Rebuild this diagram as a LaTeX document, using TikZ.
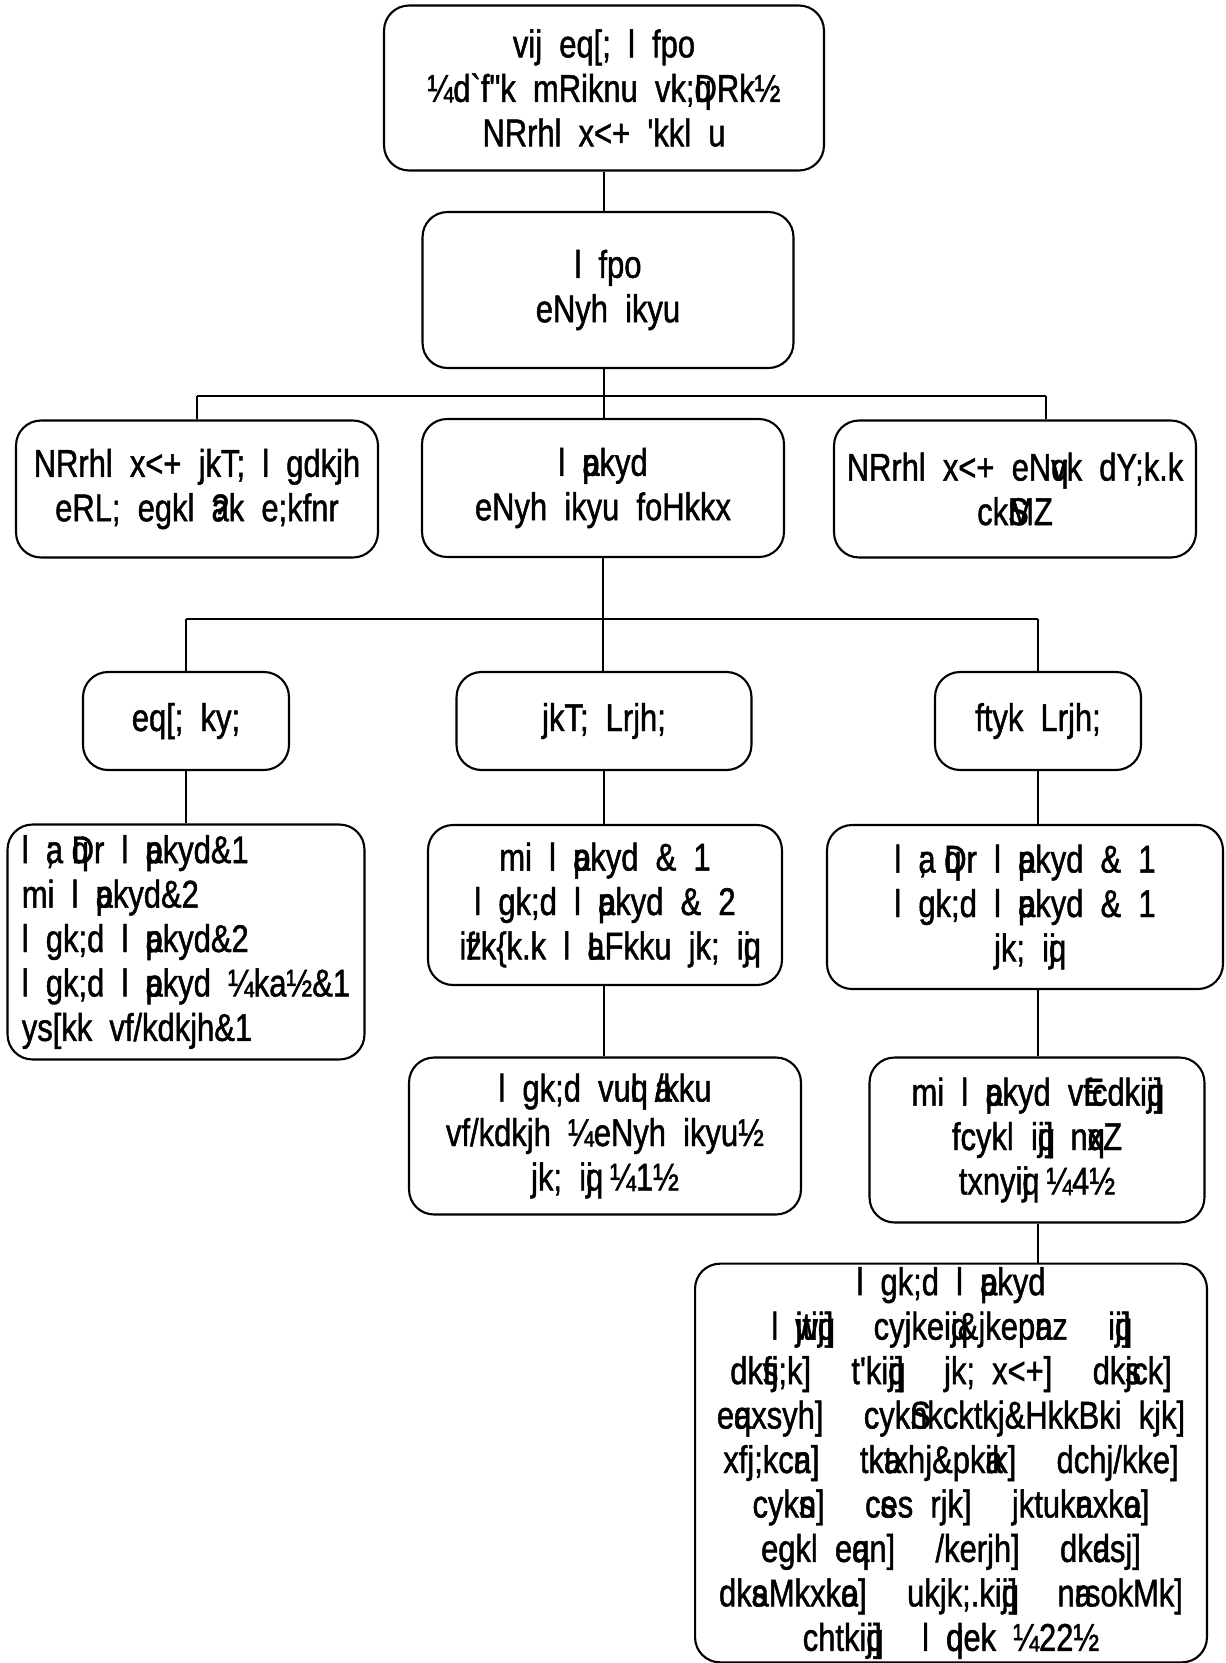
\documentclass[tikz,border=0pt]{standalone}
\usepackage{fontspec}
\newfontfamily\kfont[FakeStretch=0.8,FakeBold=1.2,WordSpace=2,Ligatures=TeXOff]{Liberation Sans}
\usepackage{tikz}
\usetikzlibrary{positioning}
% glyph drawn over the next one
\newcommand\kov[2]{\rlap{#1}#2}
% extra word gap
\newcommand\kg{\hspace{0.6em}}

\begin{document}
\begin{tikzpicture}[
    x=0.02cm, y=-0.02cm,
    box/.style={draw, line width=1.2pt, rounded corners=0.5cm, align=center,
      font=\kfont\fontsize{22}{25.3}\selectfont, inner sep=2pt},
    link/.style={line width=1.2pt}
]
  \useasboundingbox (0,0) rectangle (1226,1663);

  % shirsh star
  \node[box, minimum width=8.8cm, minimum height=3.3cm] (A) at (604,88) {vij eq[; l fpo\\ ¼d`f"k mRiknu vk;\kov{q}{D}Rk½\\ NRrhl x<+ 'kkl u};
  \node[box, minimum width=7.42cm, minimum height=3.12cm] (B) at (608,290) {l fpo\\ eNyh ikyu};

  % teen sanstha
  \node[box, minimum width=7.24cm, minimum height=2.74cm] (C1) at (197,489) {NRrhl x<+ jkT; l gdkjh\\ eRL; egkl \kov{a}{?}k e;kfnr};
  \node[box, minimum width=7.24cm, minimum height=2.76cm] (C2) at (603,488) {l \kov{a}{p}kyd\\ eNyh ikyu foHkkx};
  \node[box, minimum width=7.24cm, minimum height=2.74cm] (C3) at (1015,489) {NRrhl x<+ eN\kov{q}{v}k dY;k.k\\ ck\kov{S}{M}Z};

  % star
  \node[box, minimum width=4.12cm, minimum height=1.96cm] (D1) at (186,721) {eq[; ky;};
  \node[box, minimum width=5.9cm, minimum height=1.96cm] (D2) at (604,721) {jkT; Lrjh;};
  \node[box, minimum width=4.12cm, minimum height=1.96cm] (D3) at (1038,721) {ftyk Lrjh;};

  % adhikari
  \node[box, minimum width=7.14cm, minimum height=4.7cm, align=left] (E1) at (186,942) {l \kov{a}{;} \kov{q}{D}r l \kov{a}{p}kyd\&1\\ mi l \kov{a}{p}kyd\&2\\ l gk;d l \kov{a}{p}kyd\&2\\ l gk;d l \kov{a}{p}kyd ¼ka½\&1\\ ys[kk vf/kdkjh\&1};
  \node[box, minimum width=7.08cm, minimum height=3.2cm] (E2) at (605,905) {mi l \kov{a}{p}kyd \& 1\\ l gk;d l \kov{a}{p}kyd \& 2\\ i\kov{z}{f}'k\{k.k l \kov{a}{L}Fkku jk; i\kov{q}{j}};
  \node[box, minimum width=7.92cm, minimum height=3.28cm] (E3) at (1025,907) {l \kov{a}{;} \kov{q}{D}r l \kov{a}{p}kyd \& 1\\ l gk;d l \kov{a}{p}kyd \& 1\\ jk; i\kov{q}{j}};

  \node[box, minimum width=7.84cm, minimum height=3.14cm] (F1) at (605,1136) {l gk;d vu\kov{q}{l} \kov{a}{/}kku\\ vf/kdkjh ¼eNyh ikyu½\\ jk; i\kov{q}{j} ¼1½};
  \node[box, minimum width=6.7cm, minimum height=3.3cm] (F2) at (1037,1140) {mi l \kov{a}{p}kyd v\kov{E}{f}cdki\kov{q}{j}]\\ fcykl i\kov{q}{j}] n\kov{q}{x}Z\\ txnyi\kov{q}{j} ¼4½};

  \node[box, minimum width=10.24cm, minimum height=7.92cm] (G) at (951,1463) {l gk;d l \kov{a}{p}kyd\\ l \kov{w}{j}ti\kov{q}{j}] \kg cyjkei\kov{q}{j}\&jkep\kov{a}{n}z \kg i\kov{q}{j}]\\ dk\kov{s}{f}j;k] \kg t'ki\kov{q}{j}] \kg jk; x<+] \kg dk\kov{s}{j}ck]\\ e\kov{q}{a}xsyh] \kg cyk\kov{S}{n}kcktkj\&HkkBki kjk]\\ xfj;kc\kov{a}{n}] \kg tk\kov{a}{t}xhj\&pk\kov{a}{i}k] \kg dchj/kke]\\ cyk\kov{s}{n}] \kg c\kov{s}{e}s rjk] \kg jktuk\kov{a}{n}xk\kov{a}{o}]\\ egkl e\kov{q}{a}n] \kg /kerjh] \kg dk\kov{a}{d}sj]\\ dk\kov{s}{a}Mkxk\kov{a}{o}] \kg ukjk;.ki\kov{q}{j}] \kg n\kov{a}{r}sokMk]\\ chtki\kov{q}{j}] \kg l \kov{q}{d}ek ¼22½};

  % jod
  \coordinate (b1L) at (197,396);
  \coordinate (b1R) at (1046,396);
  \coordinate (b2L) at (186,619);
  \coordinate (b2R) at (1038,619);

  \draw[link] (A.south) -- (A.south |- B.north);
  \draw[link] (A.south |- B.south) -- (A.south |- C2.north);
  \draw[link] (b1L) -- (b1R);
  \draw[link] (b1L) -- (b1L |- C1.north);
  \draw[link] (b1R) -- (b1R |- C3.north);

  \draw[link] (C2.south) -- (C2.south |- D2.north);
  \draw[link] (b2L) -- (b2R);
  \draw[link] (b2L) -- (D1.north);
  \draw[link] (b2R) -- (D3.north);

  \draw[link] (D1.south) -- (D1.south |- E1.north);
  \draw[link] (D2.south) -- (D2.south |- E2.north);
  \draw[link] (D3.south) -- (D3.south |- E3.north);

  \draw[link] (E2.south -| D2.south) -- (D2.south |- F1.north);
  \draw[link] (D3.south |- E3.south) -- (D3.south |- F2.north);
  \draw[link] (D3.south |- F2.south) -- (D3.south |- G.north);

\end{tikzpicture}
\end{document}
